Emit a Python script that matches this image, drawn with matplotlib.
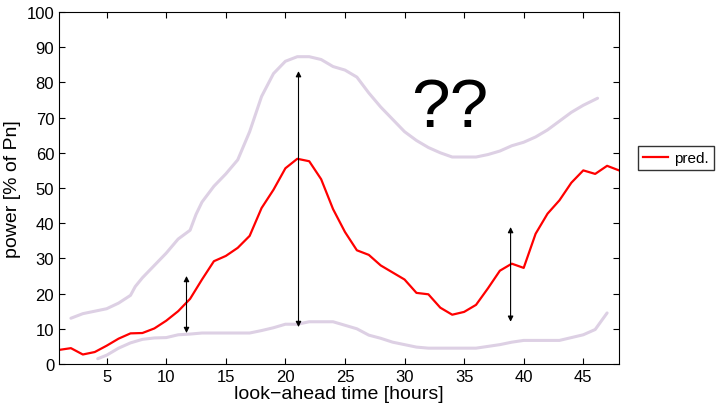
import numpy as np
import matplotlib
matplotlib.use('Agg')
import matplotlib.pyplot as plt

plt.rcParams['font.family'] = ['Liberation Sans', 'DejaVu Sans']

# point forecast, hours 1..48
hours = np.arange(1, 49)
pred = [4.0, 4.5, 2.7, 3.4, 5.2, 7.2, 8.7, 8.8, 10.1, 12.3,
        15.0, 18.5, 24.0, 29.2, 30.7, 33.0, 36.4, 44.3, 49.5, 55.6,
        58.3, 57.6, 52.5, 44.0, 37.5, 32.3, 31.0, 28.0, 26.0, 24.0,
        20.2, 19.8, 16.0, 14.0, 14.8, 16.8, 21.5, 26.5, 28.5, 27.3,
        37.0, 42.7, 46.5, 51.5, 55.0, 54.0, 56.3, 55.0]

# upper / lower uncertainty envelopes
up_h = [2, 3, 4, 5, 6, 7, 7.4, 8, 9, 10, 11, 12, 12.5, 13, 14, 15, 16, 17, 18,
        19, 20, 21, 22, 23, 24, 25, 26, 27, 28, 29, 30, 31, 32, 33, 34, 35,
        36, 37, 38, 39, 40, 41, 42, 43, 44, 45, 46.2]
up_v = [13.0, 14.3, 15.0, 15.7, 17.3, 19.5, 22.0, 24.5, 28.0, 31.5, 35.5, 38.0,
        42.5, 46.0, 50.5, 54.0, 58.0, 66.0, 76.0, 82.5, 86.0, 87.3, 87.3, 86.5,
        84.5, 83.5, 81.5, 77.0, 73.0, 69.5, 66.0, 63.5, 61.5, 60.0, 58.8, 58.8,
        58.8, 59.5, 60.5, 62.0, 63.0, 64.5, 66.5, 69.0, 71.5, 73.5, 75.5]
lo_h = [4.25, 5, 6, 7, 8, 9, 10, 11, 12, 13, 14, 15, 16, 17, 18, 19, 20, 21,
        22, 23, 24, 25, 26, 27, 28, 29, 30, 31, 32, 33, 34, 35, 36, 37, 38,
        39, 40, 41, 42, 43, 44, 45, 46, 47]
lo_v = [1.5, 2.5, 4.5, 6.0, 7.0, 7.4, 7.5, 8.3, 8.5, 8.8, 8.8, 8.8, 8.8, 8.8,
        9.5, 10.3, 11.3, 11.3, 12.0, 12.0, 12.0, 11.0, 10.0, 8.2, 7.3, 6.2,
        5.5, 4.8, 4.5, 4.5, 4.5, 4.5, 4.5, 5.0, 5.5, 6.2, 6.7, 6.7, 6.7, 6.7,
        7.5, 8.3, 9.8, 14.5]

# double arrows: (hour, bottom, top)
arrows = [(11.7, 8.8, 25.0), (21.1, 10.5, 83.2), (38.9, 12.0, 38.9)]

fig = plt.figure(figsize=(7.24, 4.06), dpi=100)
ax = fig.add_axes([0.0815, 0.101, 0.7735, 0.867])

env = '#ddd0e4'
ax.plot(up_h, up_v, color=env, lw=2.2, solid_capstyle='round')
ax.plot(lo_h, lo_v, color=env, lw=2.2, solid_capstyle='round')
line, = ax.plot(hours, pred, color='#ff0000', lw=1.6, label='pred.')

for xa, y0, y1 in arrows:
    ax.annotate('', xy=(xa, y1), xytext=(xa, y0),
                arrowprops=dict(arrowstyle='<|-|>', color='black', lw=0.8,
                                mutation_scale=8, shrinkA=0, shrinkB=0))

ax.text(33.8, 67.5, '??', fontsize=50, ha='center', va='baseline')

ax.set_xlim(1, 48)
ax.set_ylim(0, 100)
ax.set_xticks([5, 10, 15, 20, 25, 30, 35, 40, 45])
ax.set_yticks(np.arange(0, 101, 10))
ax.tick_params(direction='in', top=True, right=True, labelsize=12, length=4)
ax.set_xlabel('look\u2212ahead time [hours]', fontsize=14, labelpad=1)
ax.set_ylabel('power [% of Pn]', fontsize=14, labelpad=4)

fig.legend(handles=[line], loc='center left', bbox_to_anchor=(0.881, 0.608),
           fancybox=False, edgecolor='black', fontsize=11,
           handlelength=1.6, handletextpad=0.4, borderpad=0.35,
           borderaxespad=0)

fig.savefig('out.png', dpi=100)
